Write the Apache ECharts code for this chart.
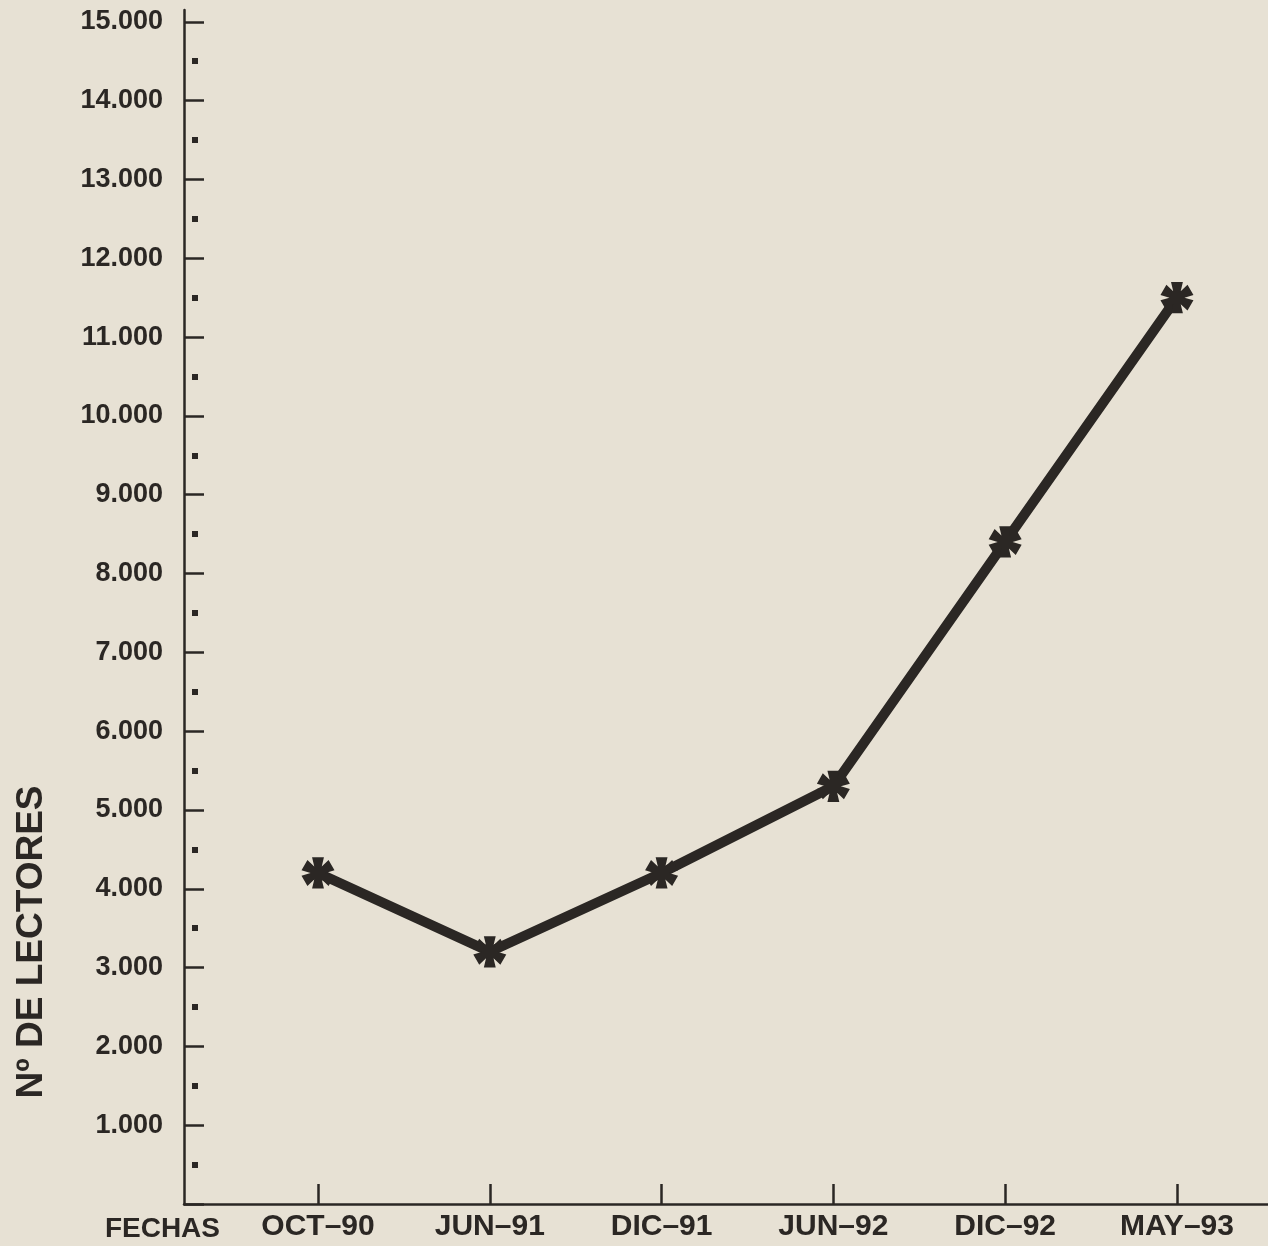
<!DOCTYPE html>
<html>
<head>
<meta charset="utf-8">
<script src="https://cdn.jsdelivr.net/npm/echarts@6/dist/echarts.min.js"></script>
<style>
  html, body { margin: 0; padding: 0; background: #e7e1d4; }
  #chart { width: 1268px; height: 1246px; }
</style>
</head>
<body>
<div id="chart"></div>
<script>
// fechas y nº de lectores
const fechas = ['OCT–90', 'JUN–91', 'DIC–91', 'JUN–92', 'DIC–92', 'MAY–93']
const lectores = [4200, 3200, 4200, 5300, 8400, 11500]
const yTicks = [0, 1000, 2000, 3000, 4000, 5000, 6000, 7000, 8000, 9000, 10000, 11000, 12000, 13000, 14000, 15000]
const yLabels = [1000, 2000, 3000, 4000, 5000, 6000, 7000, 8000, 9000, 10000, 11000, 12000, 13000, 14000, 15000]
const yHalfMarks = [500, 1500, 2500, 3500, 4500, 5500, 6500, 7500, 8500, 9500, 10500, 11500, 12500, 13500, 14500]

const ink = '#2b2724'
const font = '"Liberation Sans", Arial, Helvetica, sans-serif'

// heavy six-armed asterisk used as marker
function asteriskPath() {
  const R = 50, hw = 19, rin = 24
  const pts = []
  for (let k = 0; k < 6; k++) {
    const a = (-90 + 60 * k) * Math.PI / 180
    const dx = Math.cos(a), dy = Math.sin(a)
    const nx = -dy, ny = dx
    pts.push([dx * R - nx * hw, dy * R - ny * hw])
    pts.push([dx * R + nx * hw, dy * R + ny * hw])
    const b = a + Math.PI / 6
    pts.push([Math.cos(b) * rin, Math.sin(b) * rin])
  }
  return 'path://' + pts.map((p, i) => (i ? 'L' : 'M') + (p[0] + 60).toFixed(2) + ' ' + (p[1] + 60).toFixed(2)).join(' ') + ' Z'
}

const chart = echarts.init(document.getElementById('chart'), null, { renderer: 'canvas' })

chart.setOption({
  animation: false,
  backgroundColor: '#e7e1d4',
  grid: { left: 184, right: 0, top: 10, bottom: 42, containLabel: false },
  xAxis: {
    type: 'value',
    min: -0.78,
    max: 5.53,
    name: 'FECHAS',
    nameLocation: 'start',
    nameGap: -36,
    nameTextStyle: {
      color: ink, fontFamily: font, fontWeight: 'bold', fontSize: 28,
      verticalAlign: 'top', padding: [11, 0, 0, 0]
    },
    axisLine: { onZero: false, lineStyle: { color: ink, width: 2.5 } },
    axisTick: {
      customValues: fechas.map((f, i) => i),
      inside: true, length: 20,
      lineStyle: { color: ink, width: 2.5 }
    },
    axisLabel: {
      customValues: fechas.map((f, i) => i),
      formatter: (v) => fechas[Math.round(v)],
      color: ink, fontFamily: font, fontWeight: 'bold', fontSize: 30, margin: 8
    },
    splitLine: { show: false }
  },
  yAxis: [
    {
      type: 'value',
      min: 0,
      max: 15150,
      position: 'left',
      axisLine: { show: true, onZero: false, lineStyle: { color: ink, width: 2.5 } },
      axisTick: {
        customValues: yTicks,
        inside: true, length: 20,
        lineStyle: { color: ink, width: 2.5 }
      },
      axisLabel: {
        customValues: yLabels,
        formatter: (v) => (v / 1000) + '.000',
        color: ink, fontFamily: font, fontWeight: 'bold', fontSize: 27, margin: 21
      },
      splitLine: { show: false }
    },
    {
      // small square marks halfway between ticks
      type: 'value',
      min: 0,
      max: 15150,
      position: 'left',
      offset: -8,
      axisLine: { show: false, onZero: false },
      axisTick: {
        show: true,
        customValues: yHalfMarks,
        inside: true, length: 6,
        lineStyle: { color: ink, width: 6 }
      },
      axisLabel: { show: false },
      splitLine: { show: false }
    }
  ],
  graphic: [
    {
      type: 'text',
      x: 32,
      y: 942,
      rotation: Math.PI / 2,
      style: {
        text: 'Nº DE LECTORES',
        fill: ink,
        font: 'bold 37px ' + font,
        textAlign: 'center',
        textVerticalAlign: 'middle'
      }
    }
  ],
  series: [
    {
      type: 'line',
      data: lectores.map((v, i) => [i, v]),
      symbol: asteriskPath(),
      symbolSize: 33,
      symbolKeepAspect: true,
      lineStyle: { color: ink, width: 10 },
      itemStyle: { color: ink },
      z: 5
    }
  ]
})
</script>
</body>
</html>
